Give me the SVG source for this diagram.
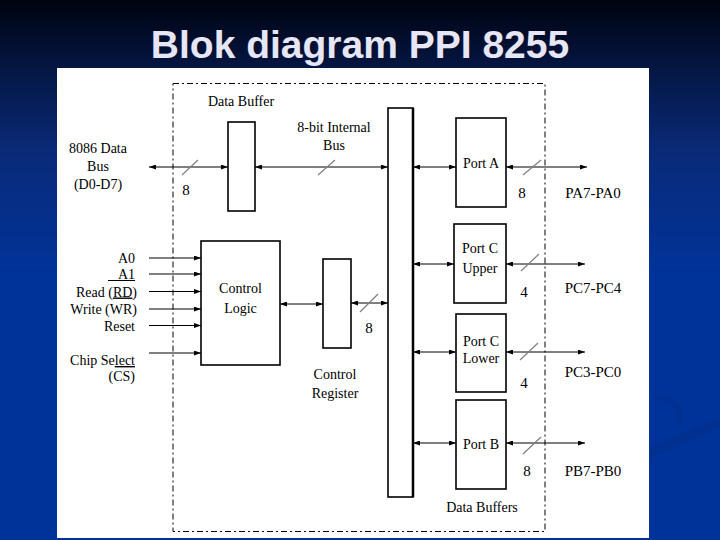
<svg xmlns="http://www.w3.org/2000/svg" width="720" height="540" viewBox="0 0 720 540">
<defs>
<linearGradient id="bg" x1="0" y1="0" x2="0" y2="1">
<stop offset="0" stop-color="#00030f"/>
<stop offset="0.12" stop-color="#041540"/>
<stop offset="0.28" stop-color="#0a2a78"/>
<stop offset="0.5" stop-color="#003399"/>
<stop offset="1" stop-color="#003399"/>
</linearGradient>
<marker id="ah" viewBox="0 0 7 5" refX="7" refY="2.5" markerWidth="7" markerHeight="5" markerUnits="userSpaceOnUse" orient="auto-start-reverse">
<path d="M0,0 L7,2.5 L0,5 z" fill="#000"/>
</marker>
<style>
.t{font-family:"Liberation Serif","Times New Roman",serif;font-size:14px;fill:#000}
.n{font-size:15px}
.p{font-size:15px}
.m{text-anchor:middle}
.r{text-anchor:end}
.box{fill:#fff;stroke:#000;stroke-width:1.6}
.c{stroke:#000;stroke-width:1;fill:none}
.bi{marker-start:url(#ah);marker-end:url(#ah)}
.in{marker-end:url(#ah)}
.sl{stroke:#808080;stroke-width:1.2}
</style>
</defs>
<rect x="0" y="0" width="720" height="540" fill="url(#bg)"/>
<path d="M650,446 Q690,430 720,418 L720,428 Q690,440 650,458 z" fill="#002a80" opacity="0.35"/>
<path d="M655,392 Q690,400 682,425 L676,425 Q682,404 652,398 z" fill="#002a80" opacity="0.3"/>
<text x="360" y="58" text-anchor="middle" style="font-family:'Liberation Sans',Arial,sans-serif;font-weight:bold;font-size:39px;fill:#e6e6f5">Blok diagram PPI 8255</text>
<rect x="57" y="68" width="592" height="470" fill="#fff"/>
<rect id="boundary" x="173" y="83.5" width="372" height="448" fill="none" stroke="#000" stroke-width="1" stroke-dasharray="6 3 2 3"/>

<g id="connectors">
<line class="c bi" x1="149" y1="167" x2="228" y2="167"/>
<line class="c bi" x1="255" y1="167" x2="388" y2="167"/>
<line class="c bi" x1="413" y1="167" x2="456" y2="167"/>
<line class="c bi" x1="506" y1="167" x2="587" y2="167"/>
<line class="c bi" x1="413" y1="264" x2="454" y2="264"/>
<line class="c bi" x1="506" y1="264" x2="585" y2="264"/>
<line class="c bi" x1="413" y1="352" x2="456" y2="352"/>
<line class="c bi" x1="506" y1="352" x2="585" y2="352"/>
<line class="c bi" x1="413" y1="443" x2="456" y2="443"/>
<line class="c bi" x1="506" y1="443" x2="585" y2="443"/>
<line class="c bi" x1="280" y1="304" x2="323" y2="304"/>
<line class="c bi" x1="351" y1="303" x2="388" y2="303"/>
<line class="c in" x1="149" y1="258" x2="201" y2="258"/>
<line class="c in" x1="149" y1="274" x2="201" y2="274"/>
<line class="c in" x1="149" y1="291.5" x2="201" y2="291.5"/>
<line class="c in" x1="149" y1="309" x2="201" y2="309" stroke-width="2"/>
<line class="c in" x1="149" y1="325.5" x2="201" y2="325.5"/>
<line class="c in" x1="149" y1="353" x2="201" y2="353"/>
<line class="sl" x1="182" y1="175" x2="198" y2="160"/>
<line class="sl" x1="318" y1="175" x2="335" y2="160"/>
<line class="sl" x1="523" y1="175" x2="541" y2="160"/>
<line class="sl" x1="521" y1="271" x2="539" y2="254"/>
<line class="sl" x1="520" y1="360" x2="538" y2="343"/>
<line class="sl" x1="523" y1="454" x2="541" y2="437"/>
<line class="sl" x1="360" y1="312" x2="378" y2="294"/>
<text class="t n m" x="186" y="195">8</text>
<text class="t n m" x="522" y="198">8</text>
<text class="t n m" x="524" y="297">4</text>
<text class="t n m" x="524" y="388">4</text>
<text class="t n m" x="527" y="476">8</text>
<text class="t n m" x="369" y="333">8</text>
<text class="t m" x="334" y="131.5">8-bit Internal</text>
<text class="t m" x="334" y="150">Bus</text>
</g>

<g id="data-bus-ext">
<text class="t m" x="98" y="153">8086 Data</text>
<text class="t m" x="98" y="171">Bus</text>
<text class="t m" x="98" y="189">(D0-D7)</text>
</g>

<g id="data-buffer">
<rect class="box" x="228" y="122" width="27" height="89"/>
<text class="t m" x="241" y="106">Data Buffer</text>
</g>

<g id="internal-bus">
<rect class="box" x="388" y="108" width="25" height="389" stroke-width="1.2"/>
<line x1="413" y1="108" x2="413" y2="497" stroke="#000" stroke-width="2.5"/>
</g>

<g id="port-a">
<rect class="box" x="456" y="118" width="50" height="89"/>
<text class="t m" x="481" y="168">Port A</text>
</g>
<g id="port-c-upper">
<rect class="box" x="454" y="224" width="52" height="79" stroke-width="1.2"/>
<text class="t m" x="480" y="253">Port C</text>
<text class="t m" x="480" y="272.5">Upper</text>
</g>
<g id="port-c-lower">
<rect class="box" x="456" y="314" width="50" height="78"/>
<text class="t m" x="481" y="346">Port C</text>
<text class="t m" x="481" y="363">Lower</text>
</g>
<g id="port-b">
<rect class="box" x="456" y="400" width="50" height="89"/>
<text class="t m" x="481" y="449">Port B</text>
<text class="t m" x="482" y="512">Data Buffers</text>
</g>

<g id="port-labels">
<text class="t p m" x="593" y="198">PA7-PA0</text>
<text class="t p m" x="593" y="292.5">PC7-PC4</text>
<text class="t p m" x="593" y="376.5">PC3-PC0</text>
<text class="t p m" x="593" y="475.5">PB7-PB0</text>
</g>

<g id="control-logic">
<rect class="box" x="201" y="241" width="79" height="124" stroke-width="1.2"/>
<text class="t m" x="240.5" y="293">Control</text>
<text class="t m" x="240.5" y="312.5">Logic</text>
</g>

<g id="control-register">
<rect class="box" x="323" y="259" width="28" height="89" stroke-width="1.2"/>
<text class="t m" x="335" y="379">Control</text>
<text class="t m" x="335" y="398">Register</text>
</g>

<g id="control-inputs">
<text class="t r" x="135" y="263">A0</text>
<text class="t r" x="135" y="279">A1</text>
<line x1="108" y1="280.5" x2="135" y2="280.5" stroke="#000" stroke-width="1"/>
<text class="t r" x="137" y="296.5">Read (<tspan text-decoration="underline">RD</tspan>)</text>
<text class="t r" x="137" y="314">Write (WR)</text>
<text class="t r" x="135" y="330.5">Reset</text>
<text class="t r" x="135" y="365">Chip Se<tspan text-decoration="underline">lect</tspan></text>
<text class="t r" x="135" y="381">(CS)</text>
</g>
</svg>
